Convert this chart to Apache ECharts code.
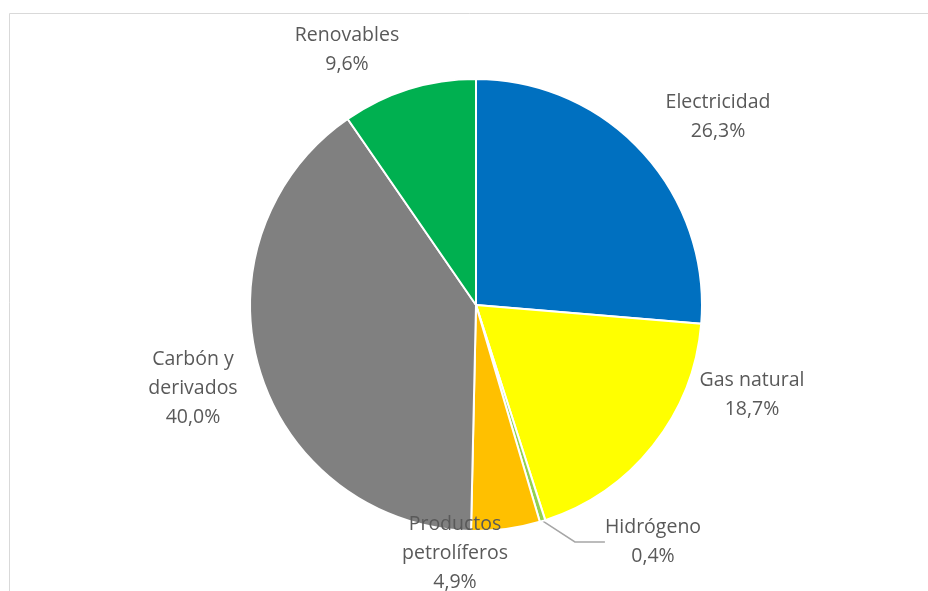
<!DOCTYPE html>
<html><head><meta charset="utf-8">
<script src="https://cdn.jsdelivr.net/npm/echarts@6/dist/echarts.min.js"></script>
<style>html,body{margin:0;padding:0;background:#fff}#c{width:928px;height:591px}</style>
</head><body><div id="c"></div>
<script>
const categories = ['Electricidad','Gas natural','Hidrógeno','Productos\npetrolíferos','Carbón y\nderivados','Renovables'];
const values = [26.3, 18.7, 0.4, 4.9, 40.0, 9.6];
const colors = ['#0070C0','#FFFF00','#92D050','#FFC000','#808080','#00B050'];
const labelPos = [[718,117],[752,395],[653,542],[455,553],[193,388],[347,50]];

const chart = echarts.init(document.getElementById('c'));
chart.setOption({
  animation:false,
  graphic:[{type:'rect',shape:{x:9.5,y:13.5,width:940,height:620},style:{fill:'none',stroke:'#d9d9d9',lineWidth:1},silent:true}],
  series:[{
    type:'pie',
    center:[476,305],
    radius:226,
    startAngle:90,
    clockwise:true,
    avoidLabelOverlap:false,
    itemStyle:{borderColor:'#fff',borderWidth:2},
    label:{show:true,color:'#595959',fontFamily:'Open Sans',fontSize:19.5,lineHeight:29,align:'center',
      formatter:p=>p.name+'\n'+p.value.toFixed(1).replace('.',',')+'%'},
    labelLine:{show:false},
    labelLayout:function(p){const q=labelPos[p.dataIndex];return {x:q[0],y:q[1],align:'center',verticalAlign:'middle'};},
    data:categories.map((c,i)=>({name:c,value:values[i],itemStyle:{color:colors[i]},
      labelLine: i===2?{show:true,lineStyle:{color:'#a6a6a6',width:1.5}}:{show:false}}))
  }]
});
</script></body></html>
